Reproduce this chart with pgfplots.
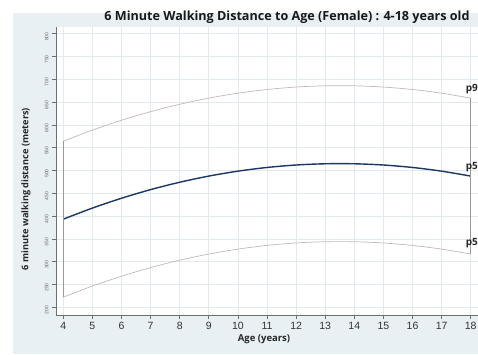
\documentclass[border=0pt]{standalone}
\usepackage{pgfplots}
\pgfplotsset{compat=1.18}
\usepackage{pgfplotstable}
\usepackage{fontspec}
\setmainfont{Open Sans}
\newfontfamily\arialf{Liberation Sans}
\definecolor{bgc}{RGB}{232,240,243}
\definecolor{gridc}{RGB}{226,234,238}
\definecolor{navy}{RGB}{28,55,100}
\definecolor{pct}{RGB}{196,184,186}
\definecolor{axc}{RGB}{110,110,110}

\pgfplotstableread{
age p5 p50 p95
4 222.2 393.2 564.2
5 246.5 417.5 588.5
6 268.1 439.1 610.1
7 287.0 458.0 629.0
8 303.2 474.2 645.2
9 316.7 487.7 658.7
10 327.5 498.5 669.5
11 335.6 506.6 677.6
12 341.0 512.0 683.0
13 343.7 514.7 685.7
14 343.7 514.7 685.7
15 341.0 512.0 683.0
16 335.6 506.6 677.6
17 327.5 498.5 669.5
18 316.7 487.7 658.7
}\data

\begin{document}
\begin{tikzpicture}
\useasboundingbox (0pt,0pt) rectangle (478pt,354pt);
\fill[bgc] (13pt,0pt) rectangle (478pt,341pt);
\begin{axis}[
 at={(56pt,39pt)}, anchor=south west,
 scale only axis, width=422pt, height=288pt,
 xmin=3.75, xmax=18.25, ymin=183, ymax=814.7,
 axis lines=left, axis line style={-, draw=axc, line width=0.8pt},
 axis background/.style={fill=white},
 xtick={4,...,18}, ytick={200,250,...,800},
 grid=major, major grid style={gridc, line width=0.6pt},
 tick align=outside, major tick length=4pt, tick style={axc, line width=0.6pt},
 xticklabel style={font=\arialf\fontsize{10.5}{12}\selectfont, text=black!80},
 yticklabel style={rotate=90, font=\arialf\fontsize{5}{6}\selectfont, text=black!60, xshift=-3pt},
 /pgf/number format/assume math mode=true,
 clip mode=individual,
]
\addplot[pct, line width=0.7pt, smooth] table[x=age, y=p95] {\data};
\addplot[navy, line width=1.4pt, smooth] table[x=age, y=p50] {\data};
\addplot[pct, line width=0.7pt, smooth] table[x=age, y=p5] {\data};
\addplot[axc!70, line width=0.6pt] coordinates {(4,222.2) (4,564.2)};
\addplot[axc!70, line width=0.6pt] coordinates {(18,316.7) (18,658.7)};
\node[anchor=west, font=\bfseries\fontsize{10}{12}\selectfont, text=black!85] at (axis cs:17.71,679) {p95};
\node[anchor=west, font=\bfseries\fontsize{10}{12}\selectfont, text=black!85] at (axis cs:17.71,508) {p50};
\node[anchor=west, font=\bfseries\fontsize{10}{12}\selectfont, text=black!85] at (axis cs:17.71,341) {p5};
\end{axis}
\node[font=\bfseries\fontsize{12.6}{14}\selectfont, text=black!90] at (287pt,337pt) {6 Minute Walking Distance to Age (Female) : 4-18 years old};
\node[rotate=90, font=\bfseries\fontsize{9.2}{11}\selectfont, text=black!85] at (26pt,165pt) {6 minute walking distance (meters)};
\node[font=\bfseries\fontsize{9.5}{11}\selectfont, text=black!85] at (264pt,15pt) {Age (years)};
\end{tikzpicture}
\end{document}
